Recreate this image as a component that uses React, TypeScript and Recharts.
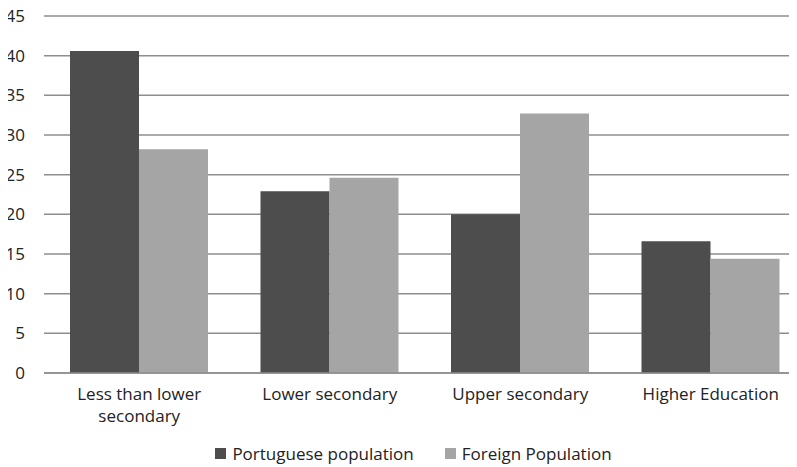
import React from 'react';
import { BarChart, Bar, XAxis, YAxis, CartesianGrid, Text } from 'recharts';

const categories = ['Less than lower secondary', 'Lower secondary', 'Upper secondary', 'Higher Education'];
const portuguese = [40.6, 22.9, 20.0, 16.6];
const foreign = [28.2, 24.6, 32.7, 14.4];
const yTicks = [0, 5, 10, 15, 20, 25, 30, 35, 40, 45];

const data = categories.map((name, i) => ({
  name,
  portuguese: portuguese[i],
  foreign: foreign[i],
}));

const FONT = '"Open Sans", "Liberation Sans", sans-serif';
const DARK = '#4d4d4d';
const LIGHT = '#a5a5a5';
const TEXT = '#222';

const CategoryTick = (props: any) => {
  const { x, y, payload } = props;
  return (
    <Text
      x={x}
      y={y}
      width={150}
      textAnchor="middle"
      verticalAnchor="start"
      lineHeight={22}
      fontSize={17}
      fontFamily={FONT}
      fill={TEXT}
    >
      {payload.value}
    </Text>
  );
};

// legend sits under the axis labels, drawn as plain html
const LegendBox = () => (
  <div
    style={{
      position: 'absolute',
      left: 0,
      top: 440,
      width: 797,
      height: 26,
      paddingLeft: 30,
      boxSizing: 'border-box',
      display: 'flex',
      justifyContent: 'center',
      alignItems: 'center',
      fontFamily: FONT,
      fontSize: 17,
      color: TEXT,
    }}
  >
    <span style={{ display: 'inline-block', width: 11, height: 11, background: DARK, marginRight: 6 }} />
    <span style={{ marginRight: 31 }}>Portuguese population</span>
    <span style={{ display: 'inline-block', width: 11, height: 11, background: LIGHT, marginRight: 6 }} />
    <span>Foreign Population</span>
  </div>
);

export default function App() {
  return (
    <div
      style={{
        position: 'relative',
        marginTop: -8,
        marginLeft: -8,
        width: 797,
        height: 467,
        overflow: 'hidden',
        background: '#fff',
      }}
    >
      <BarChart
        width={806}
        height={467}
        data={data}
        margin={{ top: 16, right: 0, bottom: 34, left: 0 }}
        barCategoryGap={26}
        barGap={0}
      >
        <CartesianGrid vertical={false} stroke="#8e8e8e" strokeWidth={1.5} />
        <XAxis
          dataKey="name"
          height={60}
          tickLine={false}
          axisLine={{ stroke: '#8e8e8e', strokeWidth: 1.5 }}
          interval={0}
          tick={<CategoryTick />}
          tickMargin={9}
        />
        <YAxis
          width={44}
          domain={[0, 45]}
          ticks={yTicks}
          interval={0}
          tickLine={false}
          axisLine={false}
          tickMargin={13}
          tick={{ fill: TEXT, fontSize: 17, fontFamily: FONT }}
        />
        <Bar dataKey="portuguese" name="Portuguese population" fill={DARK} isAnimationActive={false} />
        <Bar dataKey="foreign" name="Foreign Population" fill={LIGHT} isAnimationActive={false} />
      </BarChart>
      <LegendBox />
    </div>
  );
}
